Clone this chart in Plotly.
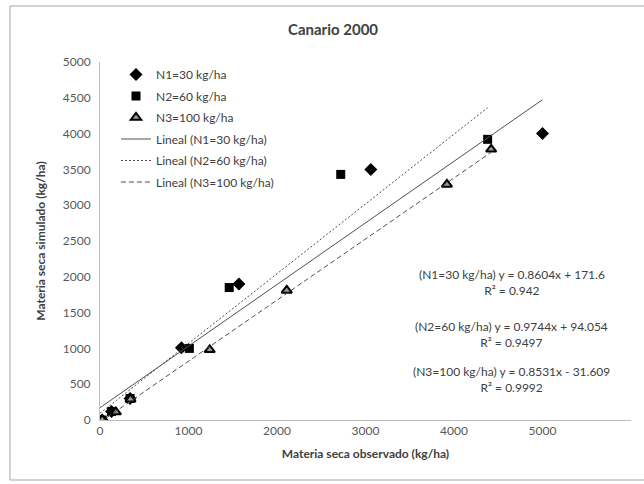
import plotly.graph_objects as go

# ---- data ----
n1_obs = [25, 130, 340, 920, 1570, 3060, 5000]
n1_sim = [0, 120, 300, 1010, 1900, 3500, 4000]
n2_obs = [25, 130, 340, 1010, 1460, 2720, 4380]
n2_sim = [0, 120, 300, 1000, 1850, 3430, 3920]
n3_obs = [25, 180, 345, 1240, 2110, 3920, 4420]
n3_sim = [5, 110, 290, 980, 1810, 3290, 3780]

series_names = ["N1=30 kg/ha", "N2=60 kg/ha", "N3=100 kg/ha"]
slopes = [0.8604, 0.9744, 0.8531]
intercepts = [171.6, 94.054, -31.609]
eq_texts = ["(N1=30 kg/ha) y = 0.8604x + 171.6<br>R² = 0.942",
            "(N2=60 kg/ha) y = 0.9744x + 94.054<br>R² = 0.9497",
            "(N3=100 kg/ha) y = 0.8531x - 31.609<br>R² = 0.9992"]
eq_pos_x = [4655, 4655, 4655]
eq_pos_y = [1920, 1201, 559]

x_ticks = [0, 1000, 2000, 3000, 4000, 5000, 6000]
y_ticks = [0, 500, 1000, 1500, 2000, 2500, 3000, 3500, 4000, 4500, 5000]

FONT = "Lato"
TXT = "#404040"

fig = go.Figure()
fig.add_trace(go.Scatter(x=n1_obs, y=n1_sim, mode="markers", name=series_names[0], legendgroup="a",
                         marker=dict(symbol="diamond", size=10, color="black")))
fig.add_trace(go.Scatter(x=n2_obs, y=n2_sim, mode="markers", name=series_names[1], legendgroup="b",
                         marker=dict(symbol="square", size=9, color="black")))
fig.add_trace(go.Scatter(x=n3_obs, y=n3_sim, mode="markers", name=series_names[2], legendgroup="c",
                         marker=dict(symbol="triangle-up", size=9, color="#9a9a9a",
                                     line=dict(color="black", width=2))))

all_obs = [n1_obs, n2_obs, n3_obs]
dashes = ["solid", "2px,2px", "5px,3px"]
groups = ["d", "e", "f"]
for i in range(3):
    xs = [0, max(all_obs[i])]
    ys = [slopes[i] * v + intercepts[i] for v in xs]
    fig.add_trace(go.Scatter(x=xs, y=ys, mode="lines", name="Lineal (" + series_names[i] + ")",
                             legendgroup=groups[i],
                             line=dict(color="#505050", width=1, dash=dashes[i])))

for i in range(3):
    fig.add_annotation(x=eq_pos_x[i], y=eq_pos_y[i], xref="x", yref="y", text=eq_texts[i],
                       showarrow=False, align="center", xanchor="center", yanchor="middle",
                       font=dict(family=FONT, size=12, color=TXT))

# chart frame
pw, ph = 644 - 100 - 13, 484 - 62 - 64
fig.add_shape(type="rect", xref="paper", yref="paper",
              x0=(10 - 100) / pw, x1=(660 - 100) / pw,
              y0=(420 - 480) / ph, y1=(420 - 6) / ph,
              line=dict(color="#a6a6a6", width=1), fillcolor="rgba(0,0,0,0)", layer="below")

fig.update_layout(
    width=644, height=484,
    margin=dict(l=100, r=13, t=62, b=64),
    paper_bgcolor="white", plot_bgcolor="white",
    font=dict(family=FONT, size=12, color=TXT),
    title=dict(text="<b>Canario 2000</b>", x=333 / 644, xanchor="center",
               y=1 - 30 / 484, yanchor="middle", font=dict(family=FONT, size=15, color=TXT)),
    showlegend=True,
    legend=dict(x=(116 - 100) / pw, y=(420 - 60) / ph, xanchor="left", yanchor="top",
                bgcolor="rgba(0,0,0,0)", font=dict(family=FONT, size=12, color=TXT),
                tracegroupgap=2.5),
    xaxis=dict(range=[0, 6000], tickvals=x_ticks, showgrid=False, zeroline=False,
               showline=True, linecolor="#bfbfbf", linewidth=1, ticks="",
               tickfont=dict(family=FONT, size=12, color="#595959"),
               title=dict(text="<b>Materia seca observado (kg/ha)</b>", standoff=12,
                          font=dict(family=FONT, size=12, color=TXT))),
    yaxis=dict(range=[0, 5000], tickvals=y_ticks, showgrid=False, zeroline=False,
               showline=True, linecolor="#bfbfbf", linewidth=1, ticks="",
               ticklabelstandoff=6,
               tickfont=dict(family=FONT, size=12, color="#595959"),
               title=dict(text="<b>Materia seca simulado (kg/ha)</b>", standoff=14,
                          font=dict(family=FONT, size=12, color=TXT))),
)

fig.write_html("out.html")
